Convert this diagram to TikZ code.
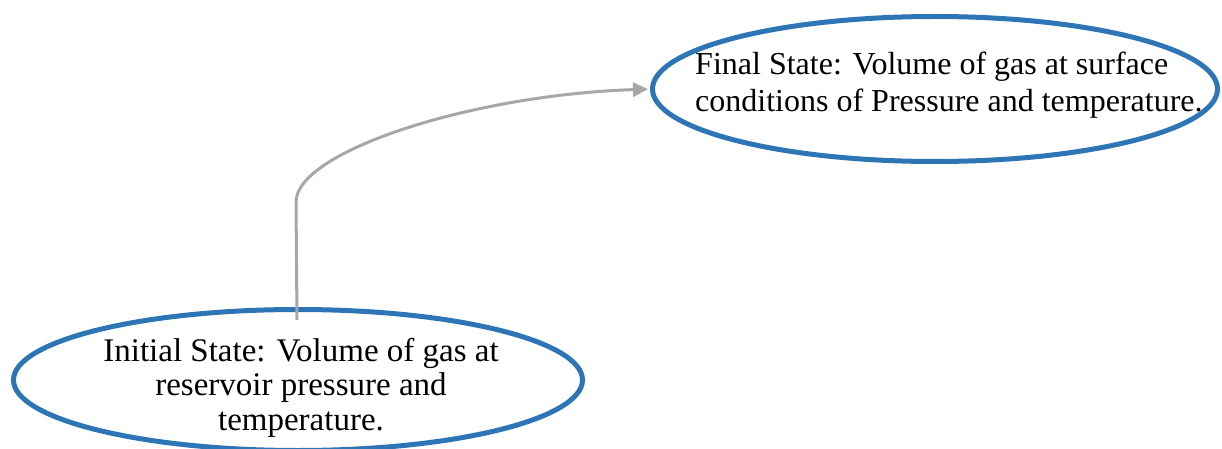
\documentclass[tikz,border=0pt]{standalone}
\usepackage{fontspec}
\setmainfont{Liberation Serif}
\usetikzlibrary{shapes.geometric,arrows.meta}
\definecolor{ellblue}{RGB}{46,117,182}
\definecolor{conngray}{RGB}{168,166,166}
\tikzset{
  stateell/.style={ellipse, draw=ellblue, line width=5pt, inner sep=0pt, outer sep=0pt},
  statetext/.style={inner sep=0pt, text=black},
  conn/.style={draw=conngray, line width=3pt, -{Triangle[length=15pt,width=14pt]}, shorten >=4.5pt}
}
\begin{document}
\begin{tikzpicture}[x=1pt,y=-1pt]
\useasboundingbox (0,0) rectangle (1222,449);
% ellipses
\node[stateell, minimum width=569pt, minimum height=141pt] (ini) at (298,380) {};
\node[stateell, minimum width=565pt, minimum height=145pt] (fin) at (935,89) {};
% texts
\node[statetext, align=center, font=\fontsize{33}{34.5}\selectfont, anchor=base] (initext) at (301,430)
  {Initial State: Volume of gas at\\reservoir pressure and\\temperature.};
\node[statetext, align=left, font=\fontsize{32}{37.5}\selectfont, anchor=base west] (fintext) at (695,112)
  {Final State: Volume of gas at surface\\conditions of Pressure and temperature.};
% connector
\coordinate (s) at (297,320);
\draw[conn] (s) -- ++(-1,-118) .. controls +(0,-50) and (470,95) .. (fin.west);
\end{tikzpicture}
\end{document}
